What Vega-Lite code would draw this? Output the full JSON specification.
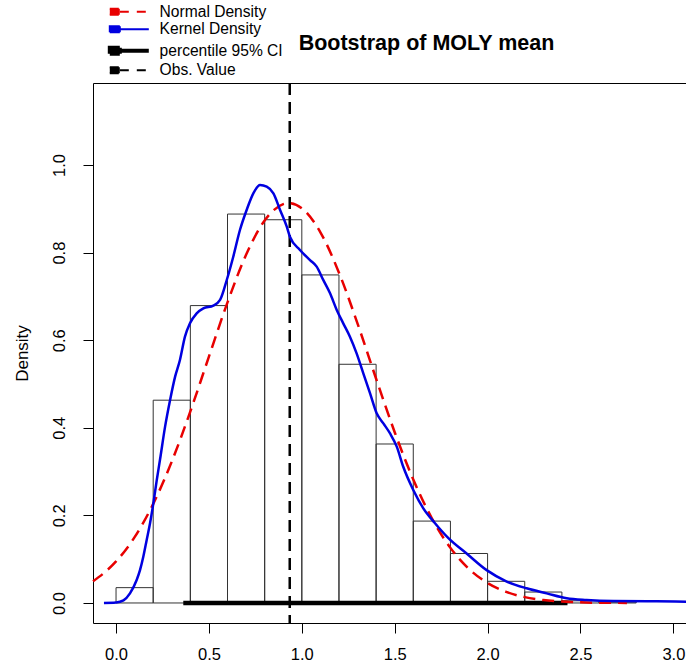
{
  "$schema": "https://vega.github.io/schema/vega-lite/v6.json",
  "autosize": "none",
  "width": 593,
  "height": 540,
  "padding": {"left": 93, "top": 83, "right": 0, "bottom": 42},
  "title": {"text": "Bootstrap of  MOLY mean", "anchor": "middle", "dx": 37, "fontSize": 21.5, "fontWeight": "bold", "font": "Liberation Sans", "color": "black", "baseline": "alphabetic", "offset": -67},
  "config": {
    "font": "Liberation Sans",
    "view": {"stroke": null},
    "axis": {"grid": false, "domainColor": "black", "tickColor": "black", "labelColor": "black", "titleColor": "black", "labelFont": "Liberation Sans", "titleFont": "Liberation Sans"},
    "legend": {"labelFont": "Liberation Sans", "labelColor": "black"}
  },
  "resolve": {"axis": {"x": "independent", "y": "independent"}},
  "layer": [
    {
      "data": {"values": [
        {"x0": 0.0, "x1": 0.2, "d": 0.035},
        {"x0": 0.2, "x1": 0.4, "d": 0.463},
        {"x0": 0.4, "x1": 0.6, "d": 0.679},
        {"x0": 0.6, "x1": 0.8, "d": 0.888},
        {"x0": 0.8, "x1": 1.0, "d": 0.875},
        {"x0": 1.0, "x1": 1.2, "d": 0.749},
        {"x0": 1.2, "x1": 1.4, "d": 0.545},
        {"x0": 1.4, "x1": 1.6, "d": 0.363},
        {"x0": 1.6, "x1": 1.8, "d": 0.187},
        {"x0": 1.8, "x1": 2.0, "d": 0.113},
        {"x0": 2.0, "x1": 2.2, "d": 0.0495},
        {"x0": 2.2, "x1": 2.4, "d": 0.025},
        {"x0": 2.4, "x1": 2.6, "d": 0.005},
        {"x0": 2.6, "x1": 2.8, "d": 0.002}
      ]},
      "mark": {"type": "bar", "fill": "transparent", "stroke": "#333333", "strokeWidth": 1},
      "encoding": {
        "x": {"field": "x0", "type": "quantitative", "scale": {"domain": [-0.124, 3.068], "nice": false, "zero": false},
              "axis": {"orient": "bottom", "values": [0, 0.5, 1, 1.5, 2, 2.5, 3], "format": ".1f", "title": null, "tickSize": 10, "labelPadding": 13, "labelFontSize": 16.5, "domain": true}},
        "x2": {"field": "x1"},
        "y": {"field": "d", "type": "quantitative", "scale": {"domain": [-0.0457, 1.1872], "nice": false, "zero": false},
              "axis": {"orient": "left", "values": [0, 0.2, 0.4, 0.6, 0.8, 1.0], "format": ".1f", "title": "Density", "titleFontSize": 17, "titleFontWeight": "normal", "titlePadding": 20, "tickSize": 10, "labelAngle": 270, "labelAlign": "center", "labelBaseline": "bottom", "labelPadding": 16, "labelFontSize": 16.5, "domain": true}},
        "y2": {"datum": 0}
      }
    },
    {
      "data": {"values": [
        {"series": "percentile 95% CI", "lo": 0.362, "hi": 2.43, "y": 0}
      ]},
      "mark": {"type": "rule", "strokeWidth": 4.5},
      "encoding": {
        "x": {"field": "lo", "type": "quantitative", "axis": {"orient": "top", "labels": false, "ticks": false, "domain": true, "title": null}},
        "x2": {"field": "hi"},
        "y": {"field": "y", "type": "quantitative", "axis": null},
        "color": {"field": "series", "type": "nominal"}
      }
    },
    {
      "data": {"values": [
        {"series": "Obs. Value", "x": 0.935}
      ]},
      "mark": {"type": "rule", "strokeWidth": 2.5, "strokeDash": [12, 7]},
      "encoding": {
        "x": {"field": "x", "type": "quantitative", "axis": null},
        "color": {"field": "series", "type": "nominal"}
      }
    },
    {
      "data": {"values": [
        {"series": "Normal Density", "x": -0.124, "y": 0.0498},
        {"series": "Normal Density", "x": -0.05, "y": 0.0739},
        {"series": "Normal Density", "x": 0.0, "y": 0.0949},
        {"series": "Normal Density", "x": 0.1, "y": 0.1503},
        {"series": "Normal Density", "x": 0.2, "y": 0.2262},
        {"series": "Normal Density", "x": 0.3, "y": 0.3229},
        {"series": "Normal Density", "x": 0.4, "y": 0.4375},
        {"series": "Normal Density", "x": 0.5, "y": 0.5625},
        {"series": "Normal Density", "x": 0.6, "y": 0.6864},
        {"series": "Normal Density", "x": 0.7, "y": 0.7949},
        {"series": "Normal Density", "x": 0.8, "y": 0.8734},
        {"series": "Normal Density", "x": 0.9, "y": 0.9107},
        {"series": "Normal Density", "x": 0.93, "y": 0.9129},
        {"series": "Normal Density", "x": 1.0, "y": 0.9013},
        {"series": "Normal Density", "x": 1.1, "y": 0.8464},
        {"series": "Normal Density", "x": 1.2, "y": 0.7542},
        {"series": "Normal Density", "x": 1.3, "y": 0.6379},
        {"series": "Normal Density", "x": 1.4, "y": 0.512},
        {"series": "Normal Density", "x": 1.5, "y": 0.3899},
        {"series": "Normal Density", "x": 1.6, "y": 0.2818},
        {"series": "Normal Density", "x": 1.7, "y": 0.1933},
        {"series": "Normal Density", "x": 1.8, "y": 0.1258},
        {"series": "Normal Density", "x": 1.9, "y": 0.0777},
        {"series": "Normal Density", "x": 2.0, "y": 0.0456},
        {"series": "Normal Density", "x": 2.1, "y": 0.0254},
        {"series": "Normal Density", "x": 2.2, "y": 0.0134},
        {"series": "Normal Density", "x": 2.3, "y": 0.0067},
        {"series": "Normal Density", "x": 2.4, "y": 0.0032},
        {"series": "Normal Density", "x": 2.5, "y": 0.0014},
        {"series": "Normal Density", "x": 2.6, "y": 0.0006},
        {"series": "Normal Density", "x": 2.75, "y": 0.0002}
      ]},
      "mark": {"type": "line", "strokeWidth": 2.5, "strokeDash": [12, 7], "interpolate": "monotone"},
      "encoding": {
        "x": {"field": "x", "type": "quantitative", "axis": null},
        "y": {"field": "y", "type": "quantitative", "axis": null},
        "color": {"field": "series", "type": "nominal",
          "scale": {"domain": ["Normal Density", "Kernel Density", "percentile 95% CI", "Obs. Value"], "range": ["#E80000", "#0000E0", "#000000", "#000000"]},
          "legend": {"title": null, "orient": "none", "legendX": 28, "legendY": -79, "padding": 0, "rowPadding": 0.5, "labelFontSize": 15.6, "labelOffset": 23, "symbolSize": 100,
            "symbolType": "M-1.8,0H4M-3.8,-0.6H-1.8V0.6H-3.8Z",
            "encode": {"symbols": {"update": {
              "fill": {"scale": "color", "field": "value"},
              "stroke": {"scale": "color", "field": "value"},
              "strokeWidth": {"signal": "datum.value === 'percentile 95% CI' ? 4 : 2"},
              "strokeDash": {"signal": "(datum.value === 'Normal Density' || datum.value === 'Obs. Value') ? [9, 8] : [1, 0]"},
              "opacity": {"value": 1}
            }}}
          }}
      }
    },
    {
      "data": {"values": [
        {"series": "Kernel Density", "x": -0.065, "y": 0.0},
        {"series": "Kernel Density", "x": 0.0, "y": 0.001},
        {"series": "Kernel Density", "x": 0.04, "y": 0.006},
        {"series": "Kernel Density", "x": 0.075, "y": 0.022},
        {"series": "Kernel Density", "x": 0.111, "y": 0.0525},
        {"series": "Kernel Density", "x": 0.129, "y": 0.075},
        {"series": "Kernel Density", "x": 0.147, "y": 0.106},
        {"series": "Kernel Density", "x": 0.165, "y": 0.144},
        {"series": "Kernel Density", "x": 0.183, "y": 0.182},
        {"series": "Kernel Density", "x": 0.201, "y": 0.228},
        {"series": "Kernel Density", "x": 0.219, "y": 0.28},
        {"series": "Kernel Density", "x": 0.237, "y": 0.328},
        {"series": "Kernel Density", "x": 0.264, "y": 0.4026},
        {"series": "Kernel Density", "x": 0.291, "y": 0.4635},
        {"series": "Kernel Density", "x": 0.318, "y": 0.5167},
        {"series": "Kernel Density", "x": 0.344, "y": 0.5548},
        {"series": "Kernel Density", "x": 0.371, "y": 0.608},
        {"series": "Kernel Density", "x": 0.398, "y": 0.6385},
        {"series": "Kernel Density", "x": 0.434, "y": 0.6614},
        {"series": "Kernel Density", "x": 0.47, "y": 0.6728},
        {"series": "Kernel Density", "x": 0.524, "y": 0.679},
        {"series": "Kernel Density", "x": 0.56, "y": 0.692},
        {"series": "Kernel Density", "x": 0.596, "y": 0.7374},
        {"series": "Kernel Density", "x": 0.631, "y": 0.7906},
        {"series": "Kernel Density", "x": 0.667, "y": 0.8516},
        {"series": "Kernel Density", "x": 0.703, "y": 0.8973},
        {"series": "Kernel Density", "x": 0.739, "y": 0.9353},
        {"series": "Kernel Density", "x": 0.775, "y": 0.9543},
        {"series": "Kernel Density", "x": 0.811, "y": 0.9505},
        {"series": "Kernel Density", "x": 0.847, "y": 0.9353},
        {"series": "Kernel Density", "x": 0.883, "y": 0.8973},
        {"series": "Kernel Density", "x": 0.919, "y": 0.8592},
        {"series": "Kernel Density", "x": 0.936, "y": 0.8363},
        {"series": "Kernel Density", "x": 0.99, "y": 0.806},
        {"series": "Kernel Density", "x": 1.044, "y": 0.783},
        {"series": "Kernel Density", "x": 1.08, "y": 0.768},
        {"series": "Kernel Density", "x": 1.116, "y": 0.737},
        {"series": "Kernel Density", "x": 1.152, "y": 0.707},
        {"series": "Kernel Density", "x": 1.188, "y": 0.669},
        {"series": "Kernel Density", "x": 1.223, "y": 0.6385},
        {"series": "Kernel Density", "x": 1.259, "y": 0.608},
        {"series": "Kernel Density", "x": 1.295, "y": 0.57},
        {"series": "Kernel Density", "x": 1.331, "y": 0.5244},
        {"series": "Kernel Density", "x": 1.367, "y": 0.479},
        {"series": "Kernel Density", "x": 1.403, "y": 0.433},
        {"series": "Kernel Density", "x": 1.439, "y": 0.41},
        {"series": "Kernel Density", "x": 1.475, "y": 0.387},
        {"series": "Kernel Density", "x": 1.511, "y": 0.357},
        {"series": "Kernel Density", "x": 1.546, "y": 0.311},
        {"series": "Kernel Density", "x": 1.6, "y": 0.258},
        {"series": "Kernel Density", "x": 1.654, "y": 0.216},
        {"series": "Kernel Density", "x": 1.717, "y": 0.182},
        {"series": "Kernel Density", "x": 1.789, "y": 0.148},
        {"series": "Kernel Density", "x": 1.887, "y": 0.113},
        {"series": "Kernel Density", "x": 1.995, "y": 0.075},
        {"series": "Kernel Density", "x": 2.103, "y": 0.049},
        {"series": "Kernel Density", "x": 2.21, "y": 0.0335},
        {"series": "Kernel Density", "x": 2.318, "y": 0.022},
        {"series": "Kernel Density", "x": 2.426, "y": 0.011},
        {"series": "Kernel Density", "x": 2.533, "y": 0.007},
        {"series": "Kernel Density", "x": 2.677, "y": 0.0046},
        {"series": "Kernel Density", "x": 2.91, "y": 0.004},
        {"series": "Kernel Density", "x": 3.068, "y": 0.003}
      ]},
      "mark": {"type": "line", "strokeWidth": 2.5, "interpolate": "monotone"},
      "encoding": {
        "x": {"field": "x", "type": "quantitative", "axis": null},
        "y": {"field": "y", "type": "quantitative", "axis": null},
        "color": {"field": "series", "type": "nominal"}
      }
    }
  ]
}
